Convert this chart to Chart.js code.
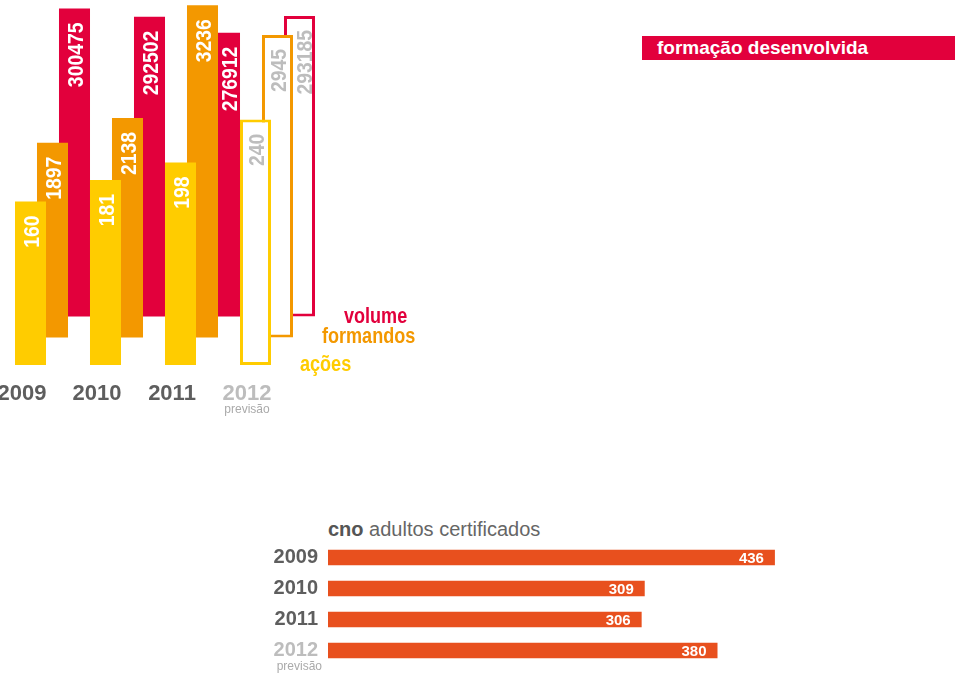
<!DOCTYPE html>
<html>
<head>
<meta charset="utf-8">
<script src="https://cdn.jsdelivr.net/npm/chart.js@4.4.1/dist/chart.umd.min.js"></script>
<style>
  body { margin: 0; width: 959px; height: 675px; position: relative; background: #fff; overflow: hidden;
         font-family: "Liberation Sans", Arial, sans-serif; }
  #topChart { position: absolute; left: 0; top: 0; }
  #cnoChart { position: absolute; left: 260px; top: 505px; }
  .tag { position: absolute; left: 642px; top: 36px; width: 298px; height: 24px; padding-left: 15px;
         background: #e2003c; color: #fff; font-weight: bold; font-size: 19px; line-height: 24px; letter-spacing: 0; }
  .cno { position: absolute; left: 328px; top: 517px; font-size: 20px; line-height: 24px; color: #666; letter-spacing: 0; }
  .cno b { color: #555; }
</style>
</head>
<body>
<canvas id="topChart" width="460" height="430"></canvas>
<div class="tag">formação desenvolvida</div>
<div class="cno"><b>cno</b> adultos certificados</div>
<canvas id="cnoChart" width="699" height="183"></canvas>

<script>
  // data
  var years = ['2009', '2010', '2011', '2012'];
  var acoes = [160, 181, 198, 240];
  var formandos = [1897, 2138, 3236, 2945];
  var volume = [300475, 292502, 276912, 293185];

  var cnoYears = ['2009', '2010', '2011', '2012'];
  var certificados = [436, 309, 306, 380];

  var yellow = '#ffcc00';
  var orange = '#f39800';
  var red = '#e2003c';
  var cnoColor = '#e8501e';
  var font = '"Liberation Sans", Arial, sans-serif';

  // 2012 (previsão) bars are drawn as outlines
  var fills = function (c) { return years.map((y, i) => i === 3 ? '#ffffff' : c); };
  var borders = years.map((y, i) => i === 3 ? 3 : 0);
  var tickColor = function (ctx) { return ctx.index === 3 ? '#bdbdbd' : '#5e5e5e'; };

  var xLabelOffset = -30.5;

  // values rotated inside the bars, legend names and "previsão"
  var topLabels = {
    id: 'topLabels',
    afterDatasetsDraw(chart) {
      var ctx = chart.ctx;
      chart.data.datasets.forEach(function (ds, i) {
        var meta = chart.getDatasetMeta(i);
        var front = i > 0 ? chart.getDatasetMeta(i - 1).data : null;
        meta.data.forEach(function (bar, j) {
          var p = bar.getProps(['x', 'y', 'base', 'width'], true);
          var top = Math.min(p.y, p.base);
          var left = p.x - p.width / 2, right = p.x + p.width / 2;
          var txt = String(ds.data[j]);
          ctx.save();
          ctx.font = 'bold 22px ' + font;
          var w = ctx.measureText(txt).width * 0.88;
          var start = top + 14;
          if (front) {
            var f = front[j].getProps(['x', 'y', 'width'], true);
            if (f.y < start + w && f.x + f.width / 2 > left) left = f.x + f.width / 2;
          }
          ctx.translate((left + right) / 2, start);
          ctx.rotate(-Math.PI / 2);
          ctx.scale(0.88, 1);
          ctx.fillStyle = j === 3 ? '#bdbdbd' : '#ffffff';
          ctx.textAlign = 'right';
          ctx.textBaseline = 'alphabetic';
          ctx.fillText(txt, 0, 8);
          ctx.restore();
        });
        // legend next to the 2012 bar
        var last = meta.data[3].getProps(['x', 'width', 'base'], true);
        ctx.save();
        ctx.font = 'bold 22px ' + font;
        ctx.fillStyle = ds.borderColor;
        ctx.translate(last.x + last.width / 2 + 29, last.base + 6);
        ctx.scale(0.82, 1);
        ctx.textAlign = 'left';
        ctx.textBaseline = 'alphabetic';
        ctx.fillText(ds.label, 0, 0);
        ctx.restore();
      });
      var xs = chart.scales.x;
      ctx.save();
      ctx.font = '12px ' + font;
      ctx.fillStyle = '#aaaaaa';
      ctx.textAlign = 'center';
      ctx.fillText('previsão', xs.getPixelForValue(3) + xLabelOffset, chart.chartArea.bottom + 48);
      ctx.restore();
    }
  };

  new Chart(document.getElementById('topChart'), {
    type: 'bar',
    data: {
      labels: years,
      datasets: [
        { label: 'ações', data: acoes, yAxisID: 'yA', backgroundColor: fills(yellow), borderColor: yellow,
          borderWidth: borders, borderSkipped: false },
        { label: 'formandos', data: formandos, yAxisID: 'yF', backgroundColor: fills(orange), borderColor: orange,
          borderWidth: borders, borderSkipped: false },
        { label: 'volume', data: volume, yAxisID: 'yV', backgroundColor: fills(red), borderColor: red,
          borderWidth: borders, borderSkipped: false }
      ]
    },
    options: {
      responsive: false,
      animation: false,
      categoryPercentage: 0.88,
      barPercentage: 1.41,
      layout: { padding: { left: 15, right: 145, top: 0, bottom: 21 } },
      plugins: { legend: { display: false }, tooltip: { enabled: false } },
      scales: {
        x: {
          grid: { display: false, drawTicks: false },
          border: { display: false },
          ticks: { font: { family: font, size: 22, weight: 'bold' }, color: tickColor, padding: 16, labelOffset: xLabelOffset },
          afterFit: function (s) { s.height = 44; }
        },
        // each series has its own scale, with its base line set higher up
        yA: { display: false, min: 0, max: 357 },
        yF: { display: false, min: -268, max: 3286 },
        yV: { display: false, min: -47300, max: 308800 }
      }
    },
    plugins: [topLabels]
  });

  var cnoLabels = {
    id: 'cnoLabels',
    afterDatasetsDraw(chart) {
      var ctx = chart.ctx;
      var meta = chart.getDatasetMeta(0);
      ctx.save();
      ctx.font = 'bold 15px ' + font;
      ctx.fillStyle = '#ffffff';
      ctx.textAlign = 'right';
      ctx.textBaseline = 'middle';
      meta.data.forEach(function (bar, j) {
        var p = bar.getProps(['x', 'y'], true);
        ctx.fillText(String(certificados[j]), p.x - 11, p.y + 1);
      });
      var ys = chart.scales.y;
      ctx.font = '12px ' + font;
      ctx.fillStyle = '#aaaaaa';
      ctx.textAlign = 'right';
      ctx.textBaseline = 'alphabetic';
      ctx.fillText('previsão', ys.right - 6, ys.getPixelForValue(3) + 19);
      ctx.restore();
    }
  };

  new Chart(document.getElementById('cnoChart'), {
    type: 'bar',
    data: {
      labels: cnoYears,
      datasets: [{ label: 'adultos certificados', data: certificados, backgroundColor: cnoColor,
                   categoryPercentage: 1, barPercentage: 0.5 }]
    },
    options: {
      indexAxis: 'y',
      responsive: false,
      animation: false,
      layout: { padding: { left: 0, right: 0, top: 37, bottom: 22 } },
      plugins: { legend: { display: false }, tooltip: { enabled: false } },
      scales: {
        x: { display: false, min: 0, max: 615.6 },
        y: {
          grid: { display: false, drawTicks: false },
          border: { display: false },
          ticks: { font: { family: font, size: 20, weight: 'bold' }, color: tickColor, padding: 10 },
          afterFit: function (s) { s.width = 68; }
        }
      }
    },
    plugins: [cnoLabels]
  });
</script>
</body>
</html>
